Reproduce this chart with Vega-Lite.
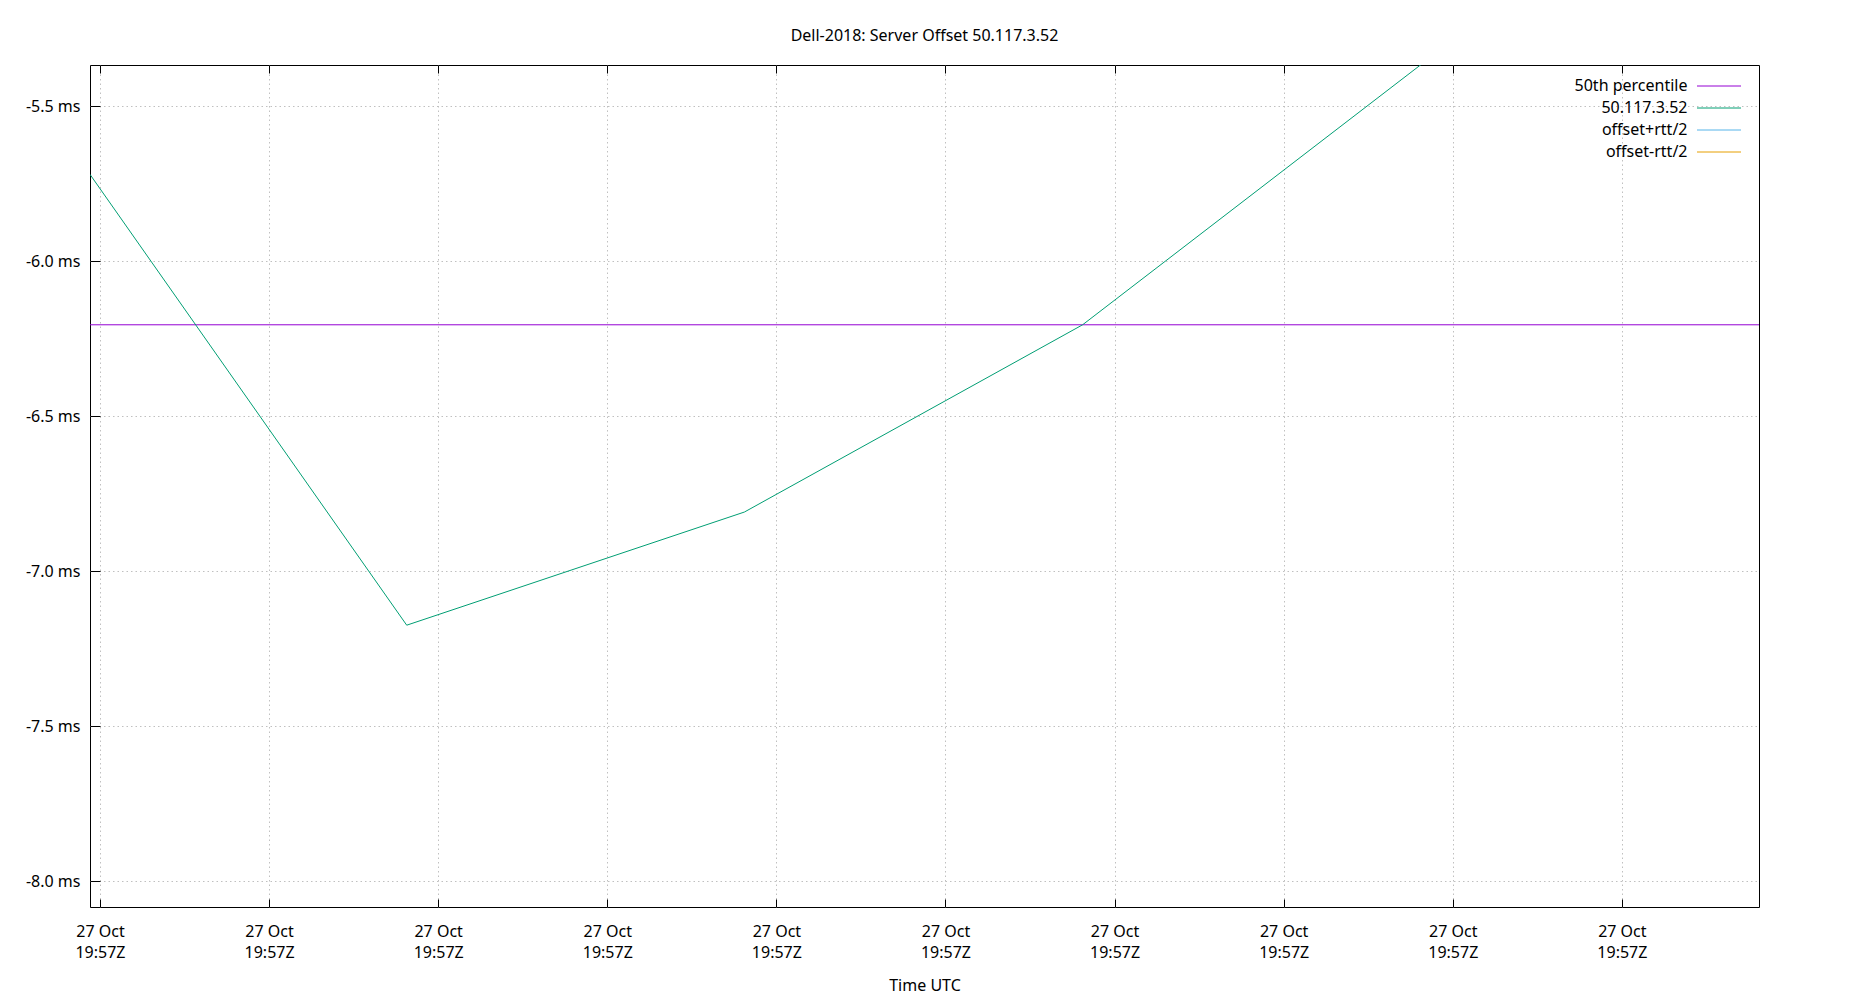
{
  "$schema": "https://vega.github.io/schema/vega-lite/v6.json",
  "width": 1669,
  "height": 842,
  "autosize": {"type": "none"},
  "padding": {"left": 90, "top": 65, "right": 91, "bottom": 93},
  "background": "white",
  "title": {"text": "Dell-2018: Server Offset 50.117.3.52", "font": "Noto Sans", "fontSize": 16, "fontWeight": "normal", "color": "#000000", "offset": 21, "anchor": "middle"},
  "config": {"view": {"stroke": "black", "strokeWidth": 1}, "font": "Noto Sans"},
  "datasets": {
    "percentile": [
      {"time": "2023-10-27T19:57:19.941Z", "offset": -6.205, "series": "50th percentile"},
      {"time": "2023-10-27T19:57:29.811Z", "offset": -6.205, "series": "50th percentile"}
    ],
    "server": [
      {"time": "2023-10-27T19:57:19.941Z", "offset": -5.72, "series": "50.117.3.52"},
      {"time": "2023-10-27T19:57:21.814Z", "offset": -7.174, "series": "50.117.3.52"},
      {"time": "2023-10-27T19:57:23.811Z", "offset": -6.809, "series": "50.117.3.52"},
      {"time": "2023-10-27T19:57:25.811Z", "offset": -6.205, "series": "50.117.3.52"},
      {"time": "2023-10-27T19:57:27.809Z", "offset": -5.367, "series": "50.117.3.52"},
      {"time": "2023-10-27T19:57:29.811Z", "offset": -4.5, "series": "50.117.3.52"}
    ]
  },
  "layer": [
    {
      "data": {"name": "percentile"},
      "mark": {"type": "line", "clip": true, "strokeWidth": 1},
      "encoding": {
        "x": {"field": "time", "type": "temporal",
          "scale": {"type": "utc", "domain": [{"year": 2023, "month": 10, "date": 27, "hours": 19, "minutes": 57, "seconds": 19, "milliseconds": 941, "utc": true}, {"year": 2023, "month": 10, "date": 27, "hours": 19, "minutes": 57, "seconds": 29, "milliseconds": 811, "utc": true}]},
          "axis": {"orient": "top", "labels": false, "title": null, "domain": false, "grid": false, "tickSize": 8, "offset": -8, "tickColor": "black",
            "values": [
              {"year": 2023, "month": 10, "date": 27, "hours": 19, "minutes": 57, "seconds": 20, "utc": true},
              {"year": 2023, "month": 10, "date": 27, "hours": 19, "minutes": 57, "seconds": 21, "utc": true},
              {"year": 2023, "month": 10, "date": 27, "hours": 19, "minutes": 57, "seconds": 22, "utc": true},
              {"year": 2023, "month": 10, "date": 27, "hours": 19, "minutes": 57, "seconds": 23, "utc": true},
              {"year": 2023, "month": 10, "date": 27, "hours": 19, "minutes": 57, "seconds": 24, "utc": true},
              {"year": 2023, "month": 10, "date": 27, "hours": 19, "minutes": 57, "seconds": 25, "utc": true},
              {"year": 2023, "month": 10, "date": 27, "hours": 19, "minutes": 57, "seconds": 26, "utc": true},
              {"year": 2023, "month": 10, "date": 27, "hours": 19, "minutes": 57, "seconds": 27, "utc": true},
              {"year": 2023, "month": 10, "date": 27, "hours": 19, "minutes": 57, "seconds": 28, "utc": true},
              {"year": 2023, "month": 10, "date": 27, "hours": 19, "minutes": 57, "seconds": 29, "utc": true}
            ]}},
        "y": {"field": "offset", "type": "quantitative",
          "scale": {"domain": [-8.083, -5.367], "nice": false, "zero": false},
          "axis": {"title": null, "values": [-8, -7.5, -7, -6.5, -6, -5.5],
            "labelExpr": "(datum.value < 0 ? '-' : '') + format(abs(datum.value), '.1f') + ' ms'",
            "tickSize": 10, "offset": -10, "tickColor": "black", "domain": false, "grid": true, "gridColor": "#c0c0c0", "gridDash": [1.5, 3],
            "labelPadding": 10, "labelFontSize": 16, "labelColor": "black", "labelFont": "Noto Sans"}},
        "color": {"field": "series", "type": "nominal",
          "scale": {"domain": ["50th percentile", "50.117.3.52", "offset+rtt/2", "offset-rtt/2"], "range": ["#9400d3", "#009e73", "#56b4e9", "#e69f00"]},
          "legend": {"orient": "none", "legendX": 1587, "legendY": 13, "title": null, "symbolType": "M-4,0H4", "symbolSize": 121, "symbolStrokeWidth": 1,
            "labelAlign": "right", "labelOffset": -39.5, "symbolOffset": 34, "labelFontSize": 16, "labelFont": "Noto Sans", "labelColor": "black", "rowPadding": 6, "labelLimit": 300}}
      }
    },
    {
      "data": {"name": "server"},
      "mark": {"type": "line", "clip": true, "strokeWidth": 1},
      "encoding": {
        "x": {"field": "time", "type": "temporal",
          "axis": {"orient": "bottom", "title": "Time UTC", "titleFont": "Noto Sans", "titleFontSize": 16, "titleFontWeight": "normal", "titleColor": "black", "titlePadding": 17,
            "labelExpr": "[utcFormat(datum.value, '%d %b'), utcFormat(datum.value, '%H:%MZ')]",
            "labelFontSize": 16, "labelFont": "Noto Sans", "labelColor": "black", "labelLineHeight": 21, "labelPadding": 16,
            "domain": false, "grid": true, "gridColor": "#c0c0c0", "gridDash": [1.5, 3], "tickSize": 8, "offset": -8, "tickColor": "black",
            "values": [
              {"year": 2023, "month": 10, "date": 27, "hours": 19, "minutes": 57, "seconds": 20, "utc": true},
              {"year": 2023, "month": 10, "date": 27, "hours": 19, "minutes": 57, "seconds": 21, "utc": true},
              {"year": 2023, "month": 10, "date": 27, "hours": 19, "minutes": 57, "seconds": 22, "utc": true},
              {"year": 2023, "month": 10, "date": 27, "hours": 19, "minutes": 57, "seconds": 23, "utc": true},
              {"year": 2023, "month": 10, "date": 27, "hours": 19, "minutes": 57, "seconds": 24, "utc": true},
              {"year": 2023, "month": 10, "date": 27, "hours": 19, "minutes": 57, "seconds": 25, "utc": true},
              {"year": 2023, "month": 10, "date": 27, "hours": 19, "minutes": 57, "seconds": 26, "utc": true},
              {"year": 2023, "month": 10, "date": 27, "hours": 19, "minutes": 57, "seconds": 27, "utc": true},
              {"year": 2023, "month": 10, "date": 27, "hours": 19, "minutes": 57, "seconds": 28, "utc": true},
              {"year": 2023, "month": 10, "date": 27, "hours": 19, "minutes": 57, "seconds": 29, "utc": true}
            ]}},
        "y": {"field": "offset", "type": "quantitative"},
        "color": {"field": "series", "type": "nominal"}
      }
    }
  ],
  "resolve": {"axis": {"x": "independent"}}
}
